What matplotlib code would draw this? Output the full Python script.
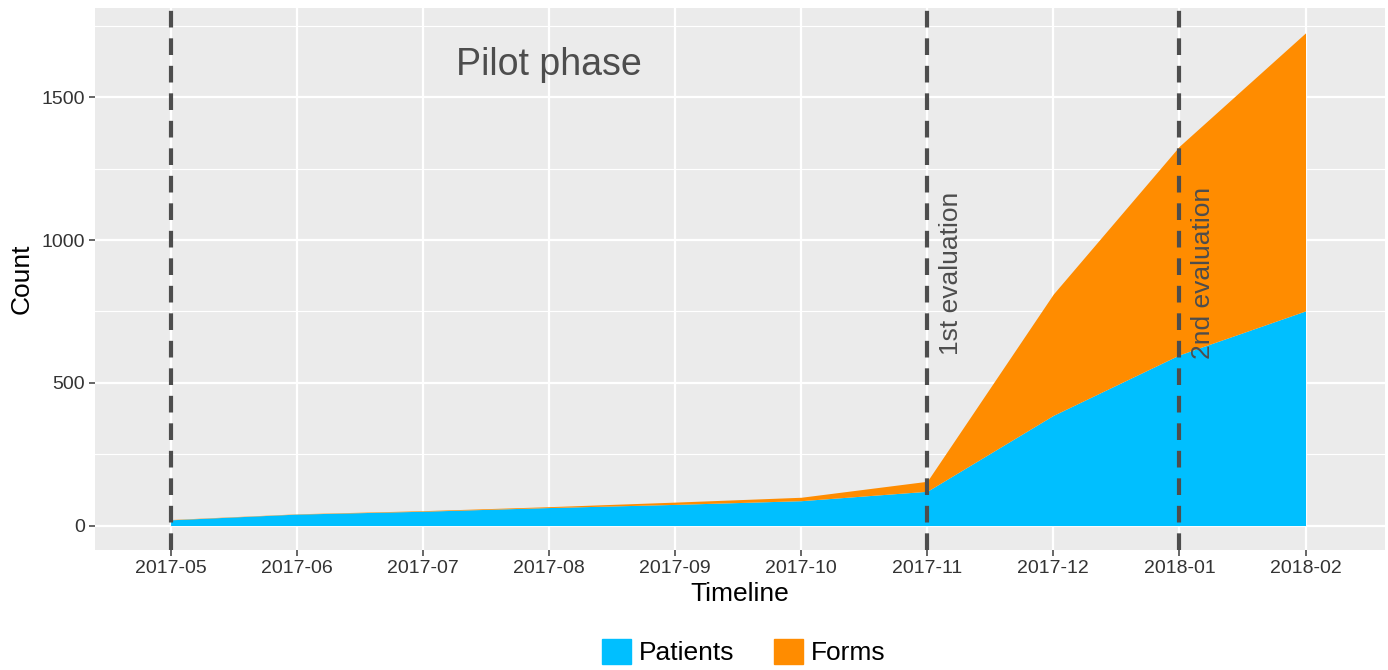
import numpy as np
import matplotlib.pyplot as plt
from matplotlib.patches import Patch

plt.rcParams['font.family'] = ['Liberation Sans', 'DejaVu Sans']

months = ["2017-05", "2017-06", "2017-07", "2017-08", "2017-09",
          "2017-10", "2017-11", "2017-12", "2018-01", "2018-02"]
patients = [20, 40, 50, 63, 74, 87, 120, 386, 598, 752]
forms = [1, 1, 2, 3, 8, 12, 35, 425, 731, 974]

events = ["2017-05", "2017-11", "2018-01"]
event_labels = {"2017-11": "1st evaluation", "2018-01": "2nd evaluation"}

blue = "#00BFFF"
orange = "#FF8C00"
grey_txt = "#4D4D4D"

x = np.arange(len(months))
p = np.array(patients)
f = np.array(forms)

fig = plt.figure(figsize=(13.88, 6.70), dpi=100)
ax = fig.add_axes([0.0684, 0.179, 0.9294, 0.809])
ax.set_facecolor("#EBEBEB")

ax.fill_between(x, 0, p, color=blue, lw=0, zorder=2)
ax.fill_between(x, p, p + f, color=orange, lw=0, zorder=2)

for ev in events:
    ax.axvline(months.index(ev), color=grey_txt, lw=3, ls=(0, (4, 2.6)), zorder=3)

for ev, lab in event_labels.items():
    i = months.index(ev)
    ax.text(i + 0.19, 885, lab, rotation=90, ha="center", va="center",
            fontsize=19, color=grey_txt, zorder=4)

ax.text(3, 1615, "Pilot phase", ha="center", va="center", fontsize=27, color=grey_txt)

ax.set_xlim(-0.6, 9.63)
ax.set_ylim(-86, 1813)
ax.set_xticks(x)
ax.set_xticklabels(months)
ax.set_yticks([0, 500, 1000, 1500])
ax.set_yticks([250, 750, 1250, 1750], minor=True)
ax.grid(which="major", color="white", lw=1.6, zorder=1)
ax.grid(which="minor", axis="y", color="white", lw=0.8, zorder=1)
ax.set_axisbelow(True)
ax.tick_params(which="major", colors=grey_txt, labelsize=14, length=4, width=1.2, pad=3)
ax.tick_params(which="minor", length=0)
ax.tick_params(axis="x", labelcolor="#333333")
ax.tick_params(axis="y", labelcolor="#333333")
for s in ax.spines.values():
    s.set_visible(False)

ax.set_xlabel("Timeline", fontsize=19, labelpad=4)
ax.set_ylabel("Count", fontsize=19, labelpad=6)

handles = [Patch(color=blue, label="Patients"), Patch(color=orange, label="Forms")]
fig.legend(handles=handles, loc="upper center", bbox_to_anchor=(0.536, 0.082),
           ncol=2, frameon=False, fontsize=19, handlelength=1.1, handleheight=1.1,
           handletextpad=0.3, columnspacing=1.5)

fig.savefig("out.png", dpi=100)
